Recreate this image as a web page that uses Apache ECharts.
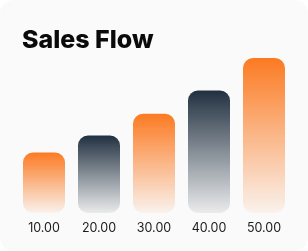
<!DOCTYPE html>
<html>
<head>
<meta charset="utf-8">
<script src="https://cdn.jsdelivr.net/npm/echarts@6/dist/echarts.min.js"></script>
<style>
html,body{margin:0;padding:0;background:#ffffff;}
#c{width:308px;height:251px;background:#fafafa;border-radius:14px;overflow:hidden;}
</style>
</head>
<body>
<div id="c"></div>
<script>
const categories = ['10.00', '20.00', '30.00', '40.00', '50.00'];
const values = [39, 50, 64, 79, 100];
const barTheme = ['orange', 'navy', 'orange', 'navy', 'orange'];

const gradients = {
  orange: new echarts.graphic.LinearGradient(0, 0, 0, 1, [
    { offset: 0, color: '#fb7a22' },
    { offset: 1, color: 'rgba(251,122,34,0.06)' }
  ]),
  navy: new echarts.graphic.LinearGradient(0, 0, 0, 1, [
    { offset: 0, color: '#213040' },
    { offset: 1, color: 'rgba(33,48,64,0.07)' }
  ])
};

const chart = echarts.init(document.getElementById('c'), null, { renderer: 'canvas' });
chart.setOption({
  backgroundColor: 'transparent',
  animation: false,
  title: {
    text: 'Sales Flow',
    left: 17,
    top: 23,
    textStyle: { fontFamily: 'Inter', fontWeight: 800, fontSize: 25, color: '#0a0a0a' }
  },
  grid: { left: 16.5, right: 16.5, top: 58, bottom: 38, containLabel: false },
  xAxis: {
    type: 'category',
    data: categories,
    axisLine: { show: false },
    axisTick: { show: false },
    axisLabel: { color: '#1c1c1c', fontSize: 12.5, fontFamily: 'Inter', margin: 9 }
  },
  yAxis: {
    type: 'value',
    min: 0,
    max: 100,
    show: false,
    splitLine: { show: false }
  },
  series: [{
    type: 'bar',
    barWidth: 42,
    data: values.map((v, i) => ({
      value: v,
      itemStyle: { color: gradients[barTheme[i]], borderRadius: 10 }
    }))
  }]
});
</script>
</body>
</html>
